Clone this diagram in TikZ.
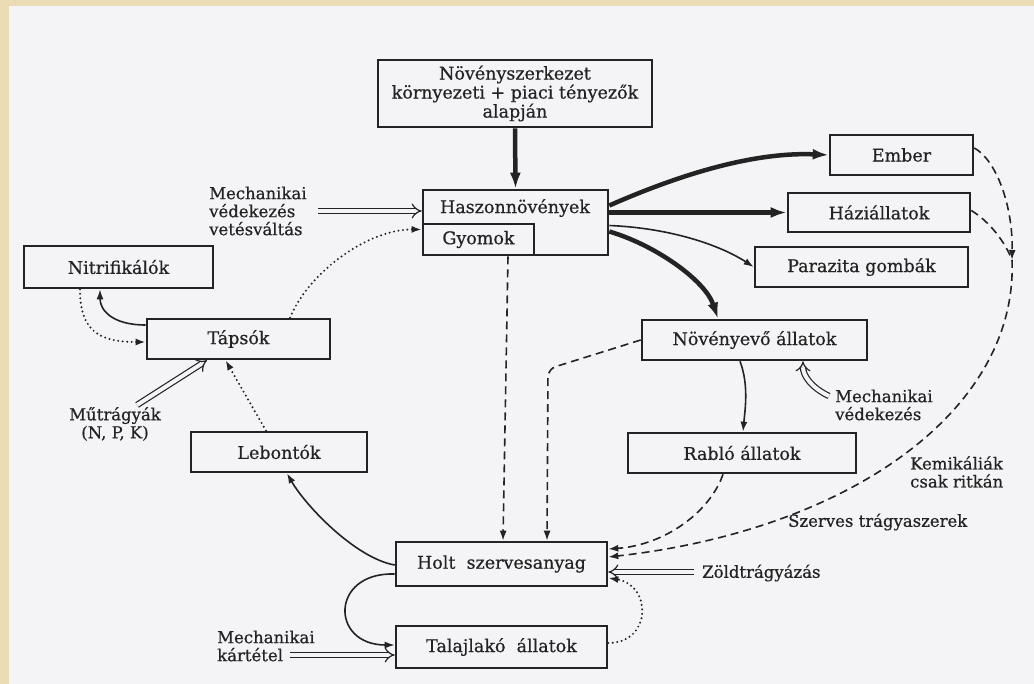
\documentclass[tikz,border=0pt]{standalone}
\usepackage{fontspec}
\setmainfont{DejaVu Serif}[FakeBold=0.6]
\usetikzlibrary{arrows.meta,calc}
\definecolor{paper}{RGB}{244,244,247}
\definecolor{tanedge}{RGB}{236,220,182}
\definecolor{ink}{RGB}{35,35,35}
\begin{document}
\begin{tikzpicture}[x=1pt,y=-1pt,
  box/.style={draw=ink, line width=2.6pt, fill=paper, inner sep=0pt, text=ink, font=\fontsize{17.5}{19}\selectfont},
  lbl/.style={inner sep=0pt, align=left, text=ink, font=\fontsize{16.5}{18}\selectfont},
  conn/.style={draw=ink, line width=1.6pt, -{Latex[length=10pt,width=7pt]}},
  heavy/.style={draw=ink, line width=4.5pt, -{Latex[length=16pt,width=11pt]}},
  dasharrow/.style={conn, dash pattern=on 8pt off 5pt},
  dotarrow/.style={conn, line width=2.2pt, line cap=round, dash pattern=on 0pt off 4.5pt},
  dbl/.style={draw=ink, line width=1.2pt, double=paper, double distance=4pt, -{Implies}}
]
\useasboundingbox (0,0) rectangle (1034,684);
\fill[tanedge] (0,0) rectangle (1034,684);
\fill[paper] (9,6) rectangle (1034,684);

% boxes
\node[box, minimum width=274pt, minimum height=67pt, align=center] (nsz) at (515,93.5) {Növényszerkezet\\környezeti + piaci tényezők\\alapján};
\node[box, minimum width=185pt, minimum height=65pt] (hasz) at (515.5,222.5) {};
\node[text=ink, inner sep=0pt, font=\fontsize{17.5}{19}\selectfont] (haszt) at (515,208) {Haszonnövények};
\node[box, minimum width=111pt, minimum height=31pt] (gyom) at (478.5,239.5) {Gyomok};
\node[box, minimum width=143pt, minimum height=40pt] (ember) at (901.5,155) {Ember};
\node[box, minimum width=182pt, minimum height=39pt] (hazi) at (879,212.5) {Háziállatok};
\node[box, minimum width=213pt, minimum height=40pt] (para) at (861.5,267) {Parazita gombák};
\node[box, minimum width=225pt, minimum height=40pt] (noveny) at (754.5,340) {Növényevő állatok};
\node[box, minimum width=228pt, minimum height=40pt] (rablo) at (742,453) {Rabló állatok};
\node[box, minimum width=189pt, minimum height=42pt] (nitri) at (118.5,267) {Nitrifikálók};
\node[box, minimum width=183pt, minimum height=40pt] (tapsok) at (238.5,339) {Tápsók};
\node[box, minimum width=176pt, minimum height=40pt] (lebont) at (279,452) {Lebontók};
\node[box, minimum width=211pt, minimum height=44pt] (holt) at (501.5,564) {Holt\ \ szervesanyag};
\node[box, minimum width=211pt, minimum height=42pt] (talaj) at (501.5,647) {Talajlakó\ \ állatok};

% labels
\node[lbl, anchor=west] (mech1) at (209,211) {Mechanikai\\védekezés\\vetésváltás};
\node[lbl, align=center] (mutr) at (115,424) {Műtrágyák\\(N, P, K)};
\node[lbl, anchor=west] (mkart) at (217,646) {Mechanikai\\kártétel};
\node[lbl, anchor=west] (zold) at (702,573) {Zöldtrágyázás};
\node[lbl, anchor=west] (szerv) at (788,522) {Szerves trágyaszerek};
\node[lbl, anchor=west] (kemi) at (910,472) {Kemikáliák\\csak ritkán};
\node[lbl, anchor=west] (mved) at (835,405) {Mechanikai\\védekezés};

\coordinate (mechstart) at (318,211);
\coordinate (mkstart) at (290,655);
\coordinate (zoldstart) at (694,572);
\coordinate (mvstart) at (829,396);
\coordinate (mutrstart) at (137,405);
\coordinate (meet) at (1012,260);

% heavy arrows
\draw[heavy] (nsz.south) -- (hasz.north);
\draw[heavy] ([yshift=17pt]hasz.east) .. controls (690,170) and (760,152) .. (ember.west);
\draw[heavy] (hasz.east |- hazi.west) -- (hazi.west);
\draw[conn] ([yshift=-3pt]hasz.east) .. controls (670,228) and (720,245) .. (para.west);
\draw[heavy] ([yshift=-9pt]hasz.east) .. controls (655,245) and (705,280) .. ([xshift=-36.5pt]noveny.north);

% double arrows
\draw[dbl] (mechstart) -- (hasz.west |- mechstart);
\draw[dbl] (mutrstart) -- ([xshift=-31.5pt]tapsok.south);
\draw[dbl] (mkstart) -- (talaj.west |- mkstart);
\draw[dbl] (zoldstart) -- (holt.east |- zoldstart);
\draw[dbl] (mvstart) .. controls (812,388) and (803,376) .. ([xshift=48.5pt]noveny.south);

% left side
\draw[dotarrow] ([xshift=51.5pt]tapsok.north) .. controls (310,270) and (370,229) .. ([yshift=10pt]gyom.west);
\draw[conn] ([yshift=14pt]tapsok.west) .. controls (112,325) and (100,310) .. ([xshift=-18.5pt]nitri.south);
\draw[dotarrow] ([xshift=-38.5pt]nitri.south) .. controls (80,332) and (100,342) .. ([yshift=-3pt]tapsok.west);
\draw[dotarrow] ([xshift=-13pt]lebont.north) -- ([xshift=-13pt]tapsok.south);
\draw[conn] ([yshift=-1pt]holt.west) .. controls (355,558) and (305,505) .. ([xshift=8pt]lebont.south);
\draw[conn] ([yshift=-10pt]holt.west) .. controls (330,572) and (330,645) .. ([yshift=2pt]talaj.west);
\draw[dotarrow] ([yshift=4pt]talaj.east) .. controls (652,643) and (652,585) .. ([yshift=-14pt]holt.east);

% middle dashed
\draw[dasharrow] ([xshift=-7.5pt]hasz.south) -- ([xshift=1.5pt]holt.north);
\draw[dasharrow, rounded corners=8pt] (noveny.west) -- (548,369) -- ([xshift=45.5pt]holt.north);

% right side
\draw[conn] ([xshift=-14.5pt]noveny.south) .. controls (749,385) and (745,410) .. ([xshift=1pt]rablo.north);
\draw[dasharrow] ([xshift=-19pt]rablo.south) .. controls (710,512) and (665,545) .. ([yshift=15pt]holt.east);
\draw[dasharrow] ([yshift=7pt]ember.east) .. controls (996,160) and (1013,205) .. (meet);
\draw[draw=ink, line width=1.6pt, dash pattern=on 8pt off 5pt] ([yshift=2pt]hazi.east) .. controls (990,222) and (1005,242) .. (meet);
\draw[dasharrow] (meet) .. controls (1018,410) and (850,530) .. ([yshift=7pt]holt.east);
\end{tikzpicture}
\end{document}
